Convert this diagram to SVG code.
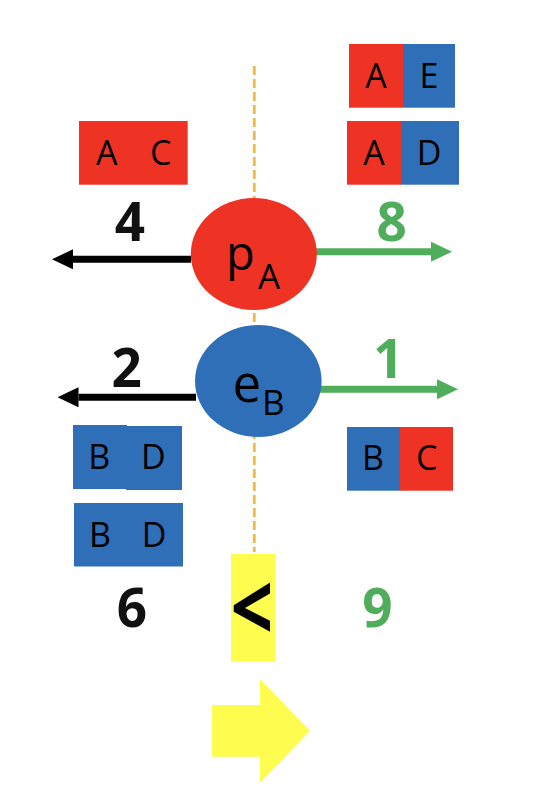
<svg xmlns="http://www.w3.org/2000/svg" width="538" height="808" viewBox="0 0 538 808">
<defs>
<style>
.red{fill:#EE3224}
.blue{fill:#2E6FB7}
.yel{fill:#FFFC50}
.lbl{font-family:"Open Sans","Liberation Sans",sans-serif;font-size:34px;fill:#000;text-anchor:middle}
.num{font-family:"Open Sans","Liberation Sans",sans-serif;font-size:53px;font-weight:bold;text-anchor:middle}
.blk{fill:#111}
.grn{fill:#4FAD5B}
.node{font-family:"Open Sans","Liberation Sans",sans-serif;fill:#000}
</style>
<marker id="ab" markerWidth="21" markerHeight="20" refX="0" refY="10" orient="auto" markerUnits="userSpaceOnUse" viewBox="0 0 21 20">
<path d="M0,0 L21,10 L0,20 Z" fill="#000"/>
</marker>
<marker id="ag" markerWidth="21" markerHeight="20" refX="0" refY="10" orient="auto" markerUnits="userSpaceOnUse" viewBox="0 0 21 20">
<path d="M0,0 L21,10 L0,20 Z" fill="#4FAD5B"/>
</marker>
</defs>
<rect width="538" height="808" fill="#fff"/>

<g id="axis">
<line x1="254.3" y1="66" x2="254.3" y2="552" stroke="#F4B942" stroke-width="2.8" stroke-dasharray="9,4"/>
</g>

<g id="connectors">
<line x1="191" y1="259.3" x2="73" y2="259.3" stroke="#000" stroke-width="7" marker-end="url(#ab)"/>
<line x1="312" y1="251.7" x2="431" y2="251.7" stroke="#4FAD5B" stroke-width="7" marker-end="url(#ag)"/>
<line x1="196" y1="397.3" x2="78.5" y2="397.3" stroke="#000" stroke-width="7" marker-end="url(#ab)"/>
<line x1="320" y1="389.3" x2="437" y2="389.3" stroke="#4FAD5B" stroke-width="7" marker-end="url(#ag)"/>
</g>

<g id="box-AC">
<rect class="red" x="79" y="121" width="108.7" height="63.7"/>
<text class="lbl" x="106.7" y="165">A</text>
<text class="lbl" x="160.7" y="165">C</text>
</g>

<g id="box-AE">
<rect class="red" x="349" y="44" width="54" height="63.7"/>
<rect class="blue" x="403" y="44" width="52" height="63.7"/>
<text class="lbl" x="376" y="88">A</text>
<text class="lbl" x="429" y="88">E</text>
</g>

<g id="box-AD">
<rect class="red" x="347" y="121" width="55" height="63.7"/>
<rect class="blue" x="401.7" y="121" width="57.3" height="63.7"/>
<text class="lbl" x="374" y="165">A</text>
<text class="lbl" x="429" y="165">D</text>
</g>

<g id="box-BD1">
<rect class="blue" x="73" y="425" width="54" height="64"/>
<rect class="blue" x="126" y="426" width="56" height="64"/>
<text class="lbl" x="99.3" y="469">B</text>
<text class="lbl" x="153.3" y="469">D</text>
</g>

<g id="box-BD2">
<rect class="blue" x="74" y="503" width="109" height="63.5"/>
<text class="lbl" x="100" y="546.5">B</text>
<text class="lbl" x="154" y="546.5">D</text>
</g>

<g id="box-BC">
<rect class="blue" x="347" y="427" width="53.5" height="63.7"/>
<rect class="red" x="400" y="427" width="53" height="63.7"/>
<text class="lbl" x="373" y="470">B</text>
<text class="lbl" x="426.7" y="470">C</text>
</g>

<g id="node-pA">
<ellipse class="red" cx="253.8" cy="254" rx="63" ry="56"/>
<text class="node" x="240.5" y="270" font-size="47" text-anchor="middle">p</text>
<text class="node" x="269" y="289.3" font-size="35" text-anchor="middle">A</text>
</g>

<g id="node-eB">
<ellipse class="blue" cx="258.3" cy="381" rx="63.3" ry="56"/>
<text class="node" x="246.7" y="401.7" font-size="51" text-anchor="middle">e</text>
<text class="node" x="273.3" y="415" font-size="35" text-anchor="middle">B</text>
</g>

<g id="labels">
<text class="num blk" x="130" y="240.7">4</text>
<text class="num grn" x="391.7" y="240.7">8</text>
<text class="num blk" x="126.7" y="387">2</text>
<text class="num grn" x="388.3" y="378">1</text>
<text class="num blk" x="132" y="626.7">6</text>
<text class="num grn" x="377.5" y="626.7">9</text>
</g>

<g id="compare">
<rect class="yel" x="231" y="554" width="44" height="107.7"/>
<text transform="translate(252,612.5) scale(1.1,1.38)" x="0" y="21" font-family="Open Sans, Liberation Sans, sans-serif" font-size="68" font-weight="bold" text-anchor="middle" fill="#000">&lt;</text>
</g>

<g id="yellow-arrow">
<path class="yel" d="M212,705 L260,705 L260,679 L310,730.7 L260,782.7 L260,756.7 L212,756.7 Z"/>
</g>
</svg>
